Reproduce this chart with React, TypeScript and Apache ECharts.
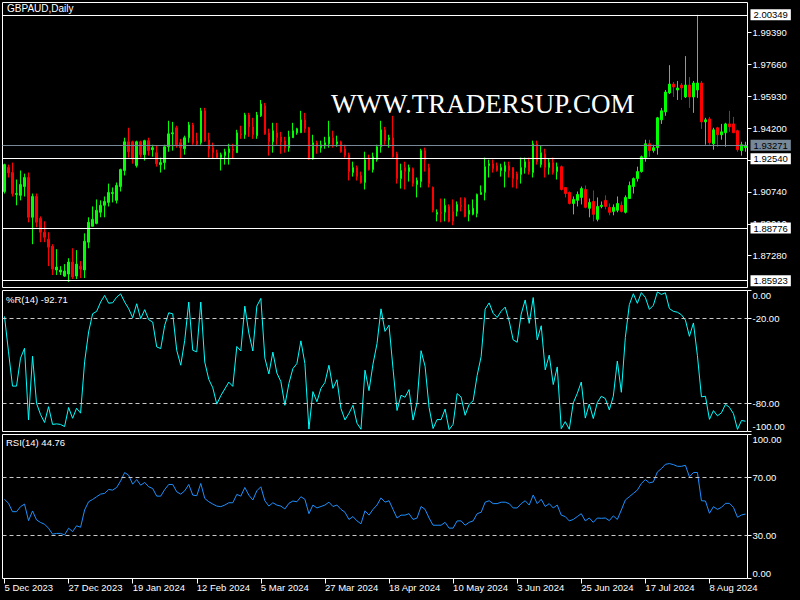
import React, { useEffect, useRef } from "react";
import * as echarts from "echarts";

// ---------- data ----------
const opens = [
  1.9076, 1.9207, 1.9179, 1.906, 1.9055, 1.9103, 1.9152, 1.8936, 1.9049, 1.893,
  1.8855, 1.8817, 1.8779, 1.865, 1.8639, 1.8617, 1.8628, 1.8693, 1.8617, 1.8671,
  1.865, 1.8801, 1.8887, 1.8903, 1.8963, 1.9001, 1.9017, 1.9065, 1.9028, 1.9103,
  1.919, 1.9346, 1.9346, 1.9217, 1.9346, 1.9276, 1.9352, 1.9303, 1.9287, 1.9222,
  1.9233, 1.9319, 1.9389, 1.9422, 1.9341, 1.9308, 1.9368, 1.9438, 1.9352, 1.9341,
  1.9514, 1.9357, 1.9314, 1.9287, 1.926, 1.9271, 1.9287, 1.9308, 1.9287, 1.9389,
  1.9384, 1.9492, 1.9427, 1.9379, 1.9487, 1.9541, 1.9395, 1.9346, 1.9395, 1.9373,
  1.9352, 1.9314, 1.9368, 1.9395, 1.9395, 1.9465, 1.9422, 1.9254, 1.9341, 1.9314,
  1.9325, 1.9335, 1.9368, 1.9335, 1.9346, 1.9308, 1.9276, 1.9179, 1.9206, 1.9163,
  1.9125, 1.9254, 1.9195, 1.9249, 1.9319, 1.9411, 1.9357, 1.9368, 1.9281, 1.9146,
  1.9206, 1.9184, 1.92, 1.9114, 1.913, 1.9298, 1.9206, 1.9098, 1.8952, 1.8963,
  1.8963, 1.8995, 1.8968, 1.8968, 1.9001, 1.9038, 1.8952, 1.8952, 1.8957, 1.906,
  1.9071, 1.9217, 1.9227, 1.9217, 1.919, 1.9184, 1.9217, 1.9206, 1.9173, 1.9168,
  1.9206, 1.9238, 1.9179, 1.9335, 1.9222, 1.9281, 1.9206, 1.9233, 1.9184, 1.9211,
  1.9098, 1.9071, 1.9011, 1.9028, 1.9044, 1.9087, 1.8985, 1.9022, 1.8925, 1.8995,
  1.9028, 1.899, 1.8968, 1.8974, 1.9001, 1.8963, 1.9038, 1.9103, 1.9146, 1.9184,
  1.926, 1.9335, 1.9298, 1.9314, 1.9465, 1.9508, 1.9611, 1.9659, 1.9627, 1.9654,
  1.9589, 1.9654, 1.9589, 1.9627, 1.9665, 1.9454, 1.947, 1.9335, 1.9422, 1.9384,
  1.9395, 1.9443, 1.9443, 1.9406, 1.9298, 1.9314,
];
const closes = [
  1.9222, 1.9177, 1.9065, 1.9065, 1.9114, 1.9152, 1.8936, 1.9049, 1.8909, 1.8855,
  1.8828, 1.8774, 1.8655, 1.8666, 1.865, 1.8644, 1.8693, 1.8612, 1.8682, 1.8655,
  1.8806, 1.8909, 1.8925, 1.8974, 1.9001, 1.9022, 1.9071, 1.9071, 1.9109, 1.9195,
  1.9346, 1.9292, 1.9254, 1.9346, 1.9276, 1.9352, 1.9298, 1.9314, 1.9227, 1.9233,
  1.9319, 1.9389, 1.9395, 1.933, 1.9314, 1.9368, 1.9438, 1.9341, 1.9335, 1.9514,
  1.9352, 1.9308, 1.9287, 1.926, 1.9276, 1.9292, 1.9308, 1.9298, 1.9395, 1.9384,
  1.9492, 1.9427, 1.9384, 1.9492, 1.9551, 1.9389, 1.9346, 1.9406, 1.9368, 1.9346,
  1.9314, 1.9373, 1.9406, 1.9417, 1.9465, 1.9417, 1.9254, 1.9341, 1.9314, 1.933,
  1.9341, 1.9373, 1.933, 1.9346, 1.9292, 1.9271, 1.9184, 1.9206, 1.9157, 1.9125,
  1.9249, 1.9195, 1.9265, 1.9319, 1.9411, 1.9352, 1.9368, 1.9265, 1.9146, 1.919,
  1.9184, 1.9206, 1.9119, 1.9136, 1.9298, 1.9249, 1.9119, 1.8974, 1.8963, 1.8957,
  1.9001, 1.8914, 1.8914, 1.9006, 1.8995, 1.8941, 1.8974, 1.8985, 1.906, 1.9071,
  1.9211, 1.9227, 1.92, 1.919, 1.9206, 1.9217, 1.919, 1.9146, 1.9141, 1.9206,
  1.9238, 1.9184, 1.9335, 1.9238, 1.9287, 1.9206, 1.9233, 1.9179, 1.9211, 1.9087,
  1.9065, 1.9011, 1.9033, 1.906, 1.9092, 1.899, 1.9017, 1.8952, 1.8995, 1.9001,
  1.8995, 1.8963, 1.899, 1.9011, 1.8968, 1.9044, 1.9109, 1.9146, 1.9184, 1.9265,
  1.9335, 1.9298, 1.9314, 1.9476, 1.9514, 1.9616, 1.9659, 1.9643, 1.9638, 1.9638,
  1.9654, 1.9589, 1.9665, 1.9665, 1.9454, 1.9465, 1.9341, 1.9411, 1.9384, 1.94,
  1.9443, 1.9427, 1.9395, 1.9303, 1.933, 1.93271,
];
const lows = [
  1.9065, 1.9152, 1.9049, 1.9001, 1.9028, 1.9049, 1.8909, 1.879, 1.8882, 1.8801,
  1.8801, 1.8671, 1.8623, 1.8623, 1.8623, 1.8612, 1.8585, 1.8601, 1.8601, 1.8606,
  1.8606, 1.8768, 1.8887, 1.8898, 1.8936, 1.8936, 1.8995, 1.9017, 1.9011, 1.9076,
  1.9163, 1.926, 1.9227, 1.9206, 1.926, 1.9244, 1.9271, 1.9265, 1.9211, 1.9179,
  1.9195, 1.9292, 1.9298, 1.9314, 1.9254, 1.9276, 1.9341, 1.933, 1.9325, 1.933,
  1.9346, 1.926, 1.9254, 1.9254, 1.919, 1.9222, 1.9222, 1.9254, 1.9287, 1.9362,
  1.9362, 1.9373, 1.9362, 1.9362, 1.9481, 1.9384, 1.9271, 1.9287, 1.933, 1.9281,
  1.9287, 1.9292, 1.9368, 1.9384, 1.9395, 1.9395, 1.9249, 1.9249, 1.9281, 1.9287,
  1.9308, 1.9314, 1.9314, 1.9319, 1.9287, 1.926, 1.9136, 1.9157, 1.9136, 1.9119,
  1.9087, 1.919, 1.9179, 1.9238, 1.9287, 1.933, 1.9314, 1.926, 1.9119, 1.9092,
  1.9087, 1.913, 1.9103, 1.9044, 1.9098, 1.9184, 1.9098, 1.8963, 1.8914, 1.8909,
  1.8914, 1.8909, 1.8893, 1.8941, 1.8968, 1.8936, 1.8914, 1.8947, 1.8936, 1.906,
  1.9028, 1.9152, 1.9179, 1.9184, 1.9157, 1.9098, 1.9152, 1.9098, 1.9092, 1.9119,
  1.9173, 1.9168, 1.9152, 1.9222, 1.9206, 1.9152, 1.9168, 1.9168, 1.9141, 1.9082,
  1.9044, 1.9006, 1.8952, 1.8995, 1.9006, 1.8985, 1.8936, 1.8914, 1.8914, 1.8985,
  1.8979, 1.8947, 1.8947, 1.8963, 1.8963, 1.8957, 1.9038, 1.9065, 1.913, 1.9179,
  1.9238, 1.9265, 1.9287, 1.9276, 1.9443, 1.9487, 1.9605, 1.9589, 1.9573, 1.9573,
  1.9584, 1.953, 1.9503, 1.9584, 1.9416, 1.933, 1.933, 1.9303, 1.9319, 1.9357,
  1.9319, 1.94, 1.9395, 1.9292, 1.9271, 1.9292,
];
const highs = [
  1.9227, 1.9222, 1.9233, 1.9141, 1.919, 1.9173, 1.9179, 1.9065, 1.9065, 1.8941,
  1.8914, 1.8855, 1.879, 1.8763, 1.8671, 1.8682, 1.8714, 1.8768, 1.8758, 1.8698,
  1.8849, 1.8936, 1.8995, 1.9033, 1.9028, 1.9049, 1.9119, 1.9098, 1.9125, 1.92,
  1.9368, 1.9422, 1.9352, 1.9352, 1.9352, 1.9357, 1.9368, 1.933, 1.9325, 1.926,
  1.933, 1.946, 1.9454, 1.9433, 1.9362, 1.9379, 1.9454, 1.9449, 1.9395, 1.953,
  1.953, 1.9395, 1.9341, 1.9303, 1.9287, 1.9308, 1.9335, 1.9335, 1.9411, 1.9433,
  1.9503, 1.9503, 1.9476, 1.9508, 1.9573, 1.9557, 1.9417, 1.9449, 1.9449, 1.94,
  1.9373, 1.9406, 1.9449, 1.9422, 1.9514, 1.9503, 1.9427, 1.9384, 1.9352, 1.9352,
  1.9373, 1.946, 1.9406, 1.9379, 1.9352, 1.933, 1.9287, 1.9238, 1.9217, 1.9184,
  1.9292, 1.9276, 1.9287, 1.933, 1.946, 1.9427, 1.9384, 1.9487, 1.9292, 1.9227,
  1.9238, 1.9222, 1.9206, 1.9152, 1.9308, 1.9314, 1.9227, 1.9103, 1.8979, 1.9038,
  1.9038, 1.9006, 1.9033, 1.9022, 1.9044, 1.9044, 1.9006, 1.9033, 1.9065, 1.9109,
  1.926, 1.9249, 1.9249, 1.9233, 1.9227, 1.9238, 1.9238, 1.9206, 1.9184, 1.926,
  1.926, 1.926, 1.9352, 1.9352, 1.9325, 1.9308, 1.9254, 1.926, 1.9233, 1.9217,
  1.9098, 1.9076, 1.9049, 1.9076, 1.9103, 1.9109, 1.9038, 1.9082, 1.9044, 1.9022,
  1.9055, 1.9011, 1.9006, 1.9049, 1.9022, 1.9055, 1.913, 1.9152, 1.9211, 1.9271,
  1.9357, 1.9357, 1.933, 1.9481, 1.953, 1.9627, 1.9762, 1.967, 1.9676, 1.9665,
  1.9811, 1.9697, 1.9676, 2.00349, 1.9676, 1.9476, 1.9481, 1.9422, 1.9427, 1.9443,
  1.9449, 1.9514, 1.9481, 1.9411, 1.9346, 1.9346,
];
const wpr = [
  -18.4, -43.5, -67.8, -67.8, -48, -41, -91.8, -46.6, -80, -88,
  -93.6, -82.4, -95, -94.6, -95, -96.5, -83, -90.6, -83.5, -87,
  -50.6, -29.4, -16.5, -14.8, -8.2, -3.5, -9, -8.7, -4.7, -2.4,
  -8.2, -12.9, -19.3, -9.4, -20, -13.6, -20.7, -22.4, -40, -41.2,
  -24.7, -15.8, -16.5, -42.4, -53, -35.3, -8.2, -42.4, -43.5, -8.2,
  -50.8, -63, -69, -80.6, -74.6, -69.8, -65, -68, -39.7, -42.9,
  -11.1, -30.2, -42.9, -11.1, -5.6, -47.9, -59.2, -43.7, -58.5, -64.6,
  -81.4, -66, -55.4, -51.8, -35.7, -51.8, -98.3, -71.7, -78.9, -69.4,
  -65.3, -53, -69.4, -63.3, -83.7, -91.8, -87.1, -81.4, -94.1, -98.4,
  -56.5, -71, -52.2, -37.7, -13, -29, -24.6, -55.4, -85.1, -74.3,
  -75.7, -70.3, -91.9, -79.3, -42.7, -53.7, -82.9, -97.9, -91.5, -91.6,
  -84.1, -98.7, -94.9, -73.1, -75.6, -88.5, -80.8, -78.2, -60.3, -46.8,
  -13.2, -8.8, -16.2, -19.1, -14.7, -11.8, -21.7, -35, -36.7, -16.7,
  -6.7, -23.3, -5, -35, -25, -56.3, -45.8, -66.7, -54.2, -98,
  -93, -98.4, -79.7, -73, -64.9, -90.5, -80.5, -90.8, -79.5, -75,
  -76.6, -84.7, -75, -50, -72.2, -33.3, -10, -2.3, -9.1, -1.5,
  -4.9, -13.4, -10.5, -1, -2.8, -1.6, -12.8, -14.8, -15.4, -17.2,
  -21, -32.5, -23, -46.3, -75.4, -75, -91.4, -85.2, -88.9, -86.7,
  -80.7, -82.9, -87.4, -98.5, -92.2, -92.71,
];
const rsi = [
  55, 52.2, 46.4, 46.4, 49.9, 51.7, 40.2, 46.9, 40.7, 38.9,
  37.7, 34.9, 30.8, 31.3, 31.3, 30.3, 34.9, 32.6, 36.6, 35.6,
  47.6, 53.3, 54.9, 56.8, 58.6, 59.1, 61.8, 61.4, 63.2, 67.8,
  73.6, 71.7, 65.5, 68.7, 64.8, 66.7, 63.7, 62.5, 57.2, 57.2,
  61.8, 65.3, 65.3, 60.2, 58.6, 60.9, 65.3, 57.9, 57.5, 66,
  55.6, 53.3, 51.7, 50.3, 49.9, 51, 52.6, 52.6, 58.4, 57.2,
  63.2, 57.9, 54.5, 60.9, 63.7, 54, 50.3, 52.6, 51, 50.3,
  48.3, 52.2, 53.8, 53.3, 56.8,
  55, 45, 51, 49, 50, 51, 53, 50, 51, 48,
  46, 41, 43, 40, 38, 47, 44, 48, 51, 56,
  53, 54, 48, 42, 44, 44, 45, 41, 42, 50,
  48, 42, 37, 37, 37, 39, 35, 35, 40, 40,
  37, 39, 40, 45, 46, 53, 54, 52, 52, 53,
  53, 52, 49, 49, 52, 54, 51, 58, 52, 55,
  50, 52, 49, 51, 44, 43, 40, 41, 43, 45,
  40, 42, 39, 42,
  41.8, 42, 40.2, 43.5, 41, 47.6, 54.5, 56.8, 59.1, 61.4,
  66, 68.7, 66.4, 67.1, 74, 76.3, 79.3, 79.8, 79.1, 77.9,
  77.9, 78.6, 70.6, 73.6, 73.6, 54, 53.8, 45.3, 49.9, 48,
  49.4, 52.2, 52.2, 49.4, 42.5, 44.1, 44.76,
];
const dateLabels = [
  "5 Dec 2023", "27 Dec 2023", "19 Jan 2024", "12 Feb 2024", "5 Mar 2024", "27 Mar 2024",
  "18 Apr 2024", "10 May 2024", "3 Jun 2024", "25 Jun 2024", "17 Jul 2024", "8 Aug 2024",
];
const priceTicks = [1.8728, 1.8901, 1.9074, 1.9247, 1.942, 1.9593, 1.9766, 1.9939];
const wprTicks = [-100, -80, -20, 0];
const wprLevels = [-20, -80];
const rsiTicks = [0, 30, 70, 100];
const rsiLevels = [70, 30];
const hLines = [2.00349, 1.9254, 1.88776, 1.85923];
const bidLine = 1.93271;
const symbolTitle = "GBPAUD,Daily";
const watermark = "WWW.TRADERSUP.COM";
// ---------------------------------------------------

const FONT = 'Tahoma, "Liberation Sans", Arial, sans-serif';
const cats = opens.map((_, i) => String(i));
const candles = opens.map((o, i) => [o, closes[i], lows[i], highs[i]]);

const gridBase = {
  left: 2.5,
  width: 745,
  show: true,
  borderColor: "#ffffff",
  borderWidth: 1,
  backgroundColor: "#000000",
};

function makeXAxis(g: number) {
  const last = g === 2;
  return {
    type: "category",
    gridIndex: g,
    data: cats,
    boundaryGap: true,
    axisLine: { show: false },
    axisTick: {
      show: last,
      interval: 15,
      alignWithLabel: true,
      length: 5,
      lineStyle: { color: "#ffffff" },
    },
    axisLabel: {
      show: last,
      interval: 15,
      color: "#ffffff",
      fontSize: 9.5,
      fontFamily: FONT,
      align: "left",
      margin: 4,
      formatter: (_v: string, idx: number) =>
        idx % 16 === 0 ? dateLabels[idx / 16] ?? "" : "",
    },
    splitLine: { show: false },
  };
}

function subYAxis(g: number, min: number, max: number, ticks: number[]) {
  return {
    type: "value",
    gridIndex: g,
    position: "right",
    min,
    max,
    axisLine: { show: false },
    splitLine: { show: false },
    axisTick: {
      show: true,
      length: 4,
      lineStyle: { color: "#ffffff" },
      customValues: ticks,
    },
    axisLabel: {
      color: "#ffffff",
      fontSize: 9.5,
      fontFamily: FONT,
      margin: 5,
      customValues: ticks,
      verticalAlignMinLabel: "bottom",
      verticalAlignMaxLabel: "top",
      formatter: (v: number) => v.toFixed(2),
    },
  };
}

const boxLabel = (bg: string, v: number) => ({
  show: true,
  position: "end",
  distance: 3,
  backgroundColor: bg,
  color: "#000000",
  fontSize: 9.5,
  fontFamily: FONT,
  padding: [1, 3, 0, 3],
  lineHeight: 10,
  formatter: v.toFixed(5),
});

const option = {
  animation: false,
  backgroundColor: "#000000",
  grid: [
    { ...gridBase, top: 2.5, height: 285 },
    { ...gridBase, top: 290.5, height: 141 },
    { ...gridBase, top: 434.5, height: 144 },
  ],
  xAxis: [makeXAxis(0), makeXAxis(1), makeXAxis(2)],
  yAxis: [
    {
      type: "value",
      gridIndex: 0,
      position: "right",
      min: 1.8555,
      max: 2.0102,
      axisLine: { show: false },
      splitLine: { show: false },
      axisTick: {
        show: true,
        length: 4,
        lineStyle: { color: "#ffffff" },
        customValues: priceTicks,
      },
      axisLabel: {
        color: "#ffffff",
        fontSize: 9.5,
        fontFamily: FONT,
        margin: 5,
        customValues: priceTicks,
        formatter: (v: number) => v.toFixed(5),
      },
    },
    subYAxis(1, -100, 0, wprTicks),
    subYAxis(2, 0, 100, rsiTicks),
  ],
  graphic: [
    {
      type: "text",
      x: 7,
      y: 8,
      z: 100,
      style: {
        text: symbolTitle,
        fill: "#ffffff",
        font: `10px ${FONT}`,
        verticalAlign: "middle",
      },
    },
    {
      type: "text",
      x: 331,
      y: 104,
      z: 100,
      style: {
        text: watermark,
        fill: "#ffffff",
        font: '27px "Liberation Serif", "Times New Roman", serif',
        verticalAlign: "middle",
        textShadowColor: "rgba(70,120,255,0.9)",
        textShadowOffsetX: -1,
        textShadowBlur: 0,
      },
    },
    {
      type: "text",
      x: 6,
      y: 299,
      z: 100,
      style: {
        text: `%R(14) ${wpr[wpr.length - 1].toFixed(2)}`,
        fill: "#ffffff",
        font: `9.5px ${FONT}`,
        verticalAlign: "middle",
      },
    },
    {
      type: "text",
      x: 6,
      y: 442,
      z: 100,
      style: {
        text: `RSI(14) ${rsi[rsi.length - 1].toFixed(2)}`,
        fill: "#ffffff",
        font: `9.5px ${FONT}`,
        verticalAlign: "middle",
      },
    },
  ],
  series: [
    {
      type: "candlestick",
      xAxisIndex: 0,
      yAxisIndex: 0,
      data: candles,
      barWidth: 2,
      itemStyle: {
        color: "#00ff00",
        color0: "#ff0000",
        borderColor: "#00ff00",
        borderColor0: "#ff0000",
        borderWidth: 1,
      },
      markLine: {
        silent: true,
        precision: 5,
        symbol: ["none", "none"],
        animation: false,
        lineStyle: { type: "solid", width: 1, color: "#ffffff" },
        data: [
          ...hLines.map((v) => ({
            yAxis: v,
            lineStyle: { color: "#ffffff", type: "solid", width: 1 },
            label: boxLabel("#ffffff", v),
          })),
          {
            yAxis: bidLine,
            lineStyle: { color: "#778899", type: "solid", width: 1 },
            label: boxLabel("#778899", bidLine),
          },
        ],
      },
    },
    {
      type: "line",
      xAxisIndex: 1,
      yAxisIndex: 1,
      data: wpr,
      showSymbol: false,
      symbol: "none",
      lineStyle: { color: "#00ffff", width: 1 },
      markLine: {
        silent: true,
        symbol: ["none", "none"],
        label: { show: false },
        lineStyle: { color: "#c8c8c8", type: [4, 3], width: 1 },
        data: wprLevels.map((v) => ({ yAxis: v })),
      },
    },
    {
      type: "line",
      xAxisIndex: 2,
      yAxisIndex: 2,
      data: rsi,
      showSymbol: false,
      symbol: "none",
      lineStyle: { color: "#1e90ff", width: 1 },
      markLine: {
        silent: true,
        symbol: ["none", "none"],
        label: { show: false },
        lineStyle: { color: "#c8c8c8", type: [4, 3], width: 1 },
        data: rsiLevels.map((v) => ({ yAxis: v })),
      },
    },
  ],
};

export default function App() {
  const ref = useRef<HTMLDivElement>(null);
  useEffect(() => {
    if (!ref.current) return;
    const chart = echarts.init(ref.current, null, { renderer: "svg" });
    chart.setOption(option as any);
    return () => chart.dispose();
  }, []);
  return (
    <div
      ref={ref}
      style={{
        position: "fixed",
        left: 0,
        top: 0,
        width: 800,
        height: 600,
        background: "#000000",
      }}
    />
  );
}
